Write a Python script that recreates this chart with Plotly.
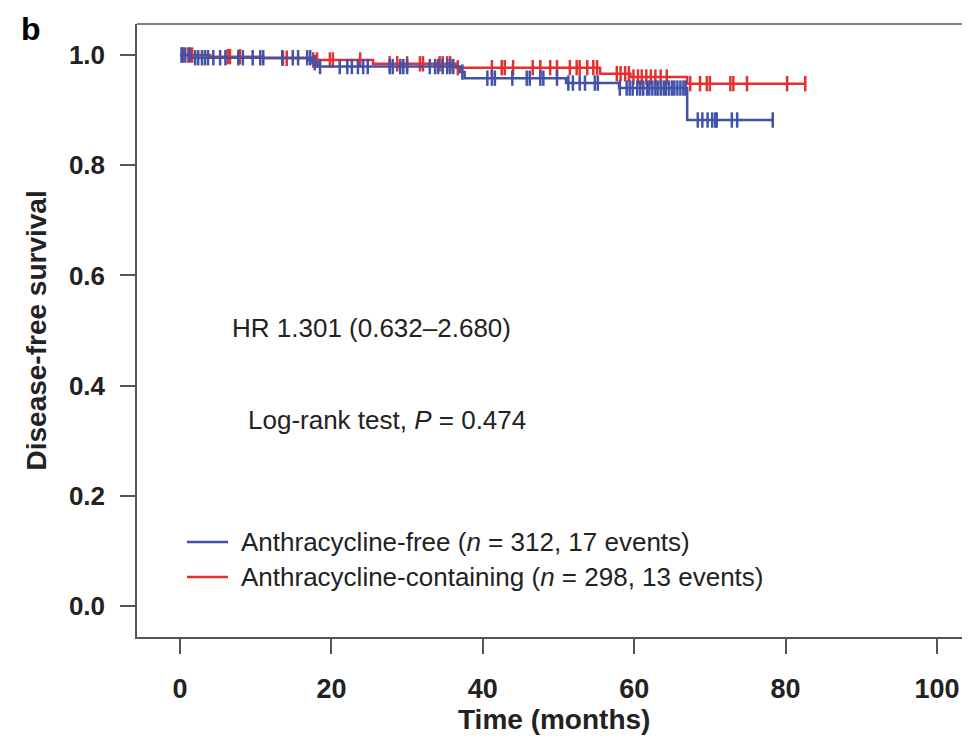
import plotly.graph_objects as go

# ---------------- data ----------------
free_event_t = [1.5, 17.5, 18.2, 37.0, 37.6, 51.0, 58.0, 67.0]
free_event_s = [0.995, 0.986, 0.979, 0.969, 0.958, 0.949, 0.940, 0.882]
free_end = 78.3
free_censor = [0.2, 0.3, 0.7, 1.3, 2.0, 2.4, 2.9, 3.3, 3.7, 4.4, 5.3, 6.0, 7.7, 8.3,
               9.6, 10.6, 11.0, 13.5, 14.9, 15.6, 16.8, 17.2, 17.8, 18.5, 21.1, 22.1,
               22.7, 23.5, 24.2, 24.8, 27.7, 28.1, 29.1, 29.5, 30.0, 33.0, 33.7, 34.1,
               34.7, 35.3, 35.7, 36.1, 37.3, 40.6, 41.2, 41.6, 43.9, 45.8, 46.2, 47.6,
               48.0, 49.8, 51.3, 51.9, 52.8, 53.5, 54.8, 55.2, 58.1, 59.0, 59.4, 59.8,
               60.4, 60.8, 61.2, 61.7, 62.0, 62.4, 62.8, 63.1, 63.5, 63.9, 64.2, 64.6,
               65.0, 65.3, 65.7, 66.1, 66.5, 66.8, 68.4, 69.0, 69.7, 70.3, 70.7, 70.9,
               72.9, 73.6, 78.3]

cont_event_t = [4.0, 11.0, 17.0, 25.5, 36.5, 55.5, 59.5, 67.0]
cont_event_s = [0.997, 0.994, 0.991, 0.984, 0.977, 0.966, 0.960, 0.948]
cont_end = 82.6
cont_censor = [0.4, 1.1, 1.6, 6.3, 6.6, 7.9, 13.6, 14.1, 17.6, 18.1, 19.8, 20.2, 23.8,
               27.7, 28.7, 30.0, 31.7, 32.1, 34.3, 34.7, 35.3, 35.7, 36.7, 41.2, 42.5,
               42.9, 44.0, 46.6, 47.6, 48.9, 49.8, 51.5, 52.4, 52.8, 53.8, 54.6, 55.1,
               57.7, 58.2, 58.8, 59.3, 59.9, 60.5, 61.0, 61.6, 62.2, 62.8, 63.5, 64.3,
               67.4, 68.7, 69.6, 70.0, 72.7, 73.1, 74.9, 80.2, 82.6]

x_ticks = [0, 20, 40, 60, 80, 100]
y_ticks = [0.0, 0.2, 0.4, 0.6, 0.8, 1.0]

label_free = "Anthracycline-free (<i>n</i> = 312, 17 events)"
label_cont = "Anthracycline-containing (<i>n</i> = 298, 13 events)"
hr_text = "HR 1.301 (0.632\u20132.680)"
lr_text = "Log-rank test, <i>P</i> = 0.474"

BLUE = "#4152a8"
RED = "#e3312f"
AX = "#555555"
TXT = "#222222"
FONT = "Liberation Sans, Arial, sans-serif"


def surv_at(t, ev_t, ev_s):
    s = 1.0
    for et, es in zip(ev_t, ev_s):
        if et <= t:
            s = es
    return s


def curve(ev_t, ev_s, end):
    xs = [0.0] + list(ev_t) + [end]
    ys = [1.0] + list(ev_s) + [ev_s[-1]]
    return xs, ys


fig = go.Figure()

for ev_t, ev_s, end, cens, col in [
    (cont_event_t, cont_event_s, cont_end, cont_censor, RED),
    (free_event_t, free_event_s, free_end, free_censor, BLUE),
]:
    xs, ys = curve(ev_t, ev_s, end)
    fig.add_trace(go.Scatter(x=xs, y=ys, mode="lines", line=dict(color=col, width=2.5, shape="hv"),
                             showlegend=False, hoverinfo="skip"))
    fig.add_trace(go.Scatter(x=cens, y=[surv_at(c, ev_t, ev_s) for c in cens], mode="markers",
                             marker=dict(symbol="line-ns-open", size=11, color=col,
                                         line=dict(color=col, width=2.5)),
                             showlegend=False, hoverinfo="skip"))

# layout geometry in window pixels (page body has an 8px margin)
OFF = 8
L, R, T, B = 137, 970, 24, 637
WIN_W, WIN_H = 970, 738


def px(xp):
    return (xp - L) / (R - L)


def py(yp):
    return (B - yp) / (B - T)


annotations = [
    dict(text="b", x=px(19), y=py(9), xref="paper", yref="paper", xanchor="left", yanchor="top",
         showarrow=False, font=dict(size=32, family=FONT, color="black", weight="bold")),
    dict(text="Disease-free survival", x=px(36), y=0.5, xref="paper", yref="paper", textangle=-90,
         xanchor="center", yanchor="middle", showarrow=False,
         font=dict(size=28, family=FONT, color=TXT, weight="bold")),
    dict(text="Time (months)", x=0.5, y=py(719), xref="paper", yref="paper",
         xanchor="center", yanchor="middle", showarrow=False,
         font=dict(size=28, family=FONT, color=TXT, weight="bold")),
    dict(text=hr_text, x=px(230), y=py(328), xref="paper", yref="paper", xanchor="left", yanchor="middle",
         showarrow=False, font=dict(size=26, family=FONT, color=TXT)),
    dict(text=lr_text, x=px(246), y=py(420), xref="paper", yref="paper", xanchor="left", yanchor="middle",
         showarrow=False, font=dict(size=26, family=FONT, color=TXT)),
    dict(text=label_free, x=px(239), y=py(542), xref="paper", yref="paper", xanchor="left", yanchor="middle",
         showarrow=False, font=dict(size=26, family=FONT, color=TXT)),
    dict(text=label_cont, x=px(239), y=py(577), xref="paper", yref="paper", xanchor="left", yanchor="middle",
         showarrow=False, font=dict(size=26, family=FONT, color=TXT)),
]

shapes = [
    dict(type="line", xref="paper", yref="paper", x0=0, x1=1, y0=1, y1=1, line=dict(color=AX, width=1.5)),
    dict(type="line", xref="paper", yref="paper", x0=px(187), x1=px(228), y0=py(542), y1=py(542),
         line=dict(color=BLUE, width=2.5)),
    dict(type="line", xref="paper", yref="paper", x0=px(187), x1=px(228), y0=py(577), y1=py(577),
         line=dict(color=RED, width=2.5)),
]

x_px_per = (937 - 180) / 100.0
x0 = -(180 - L) / x_px_per
x1 = x0 + (R - L) / x_px_per
y_px_per = (606 - 55) / 1.0
y0 = -(B - 606) / y_px_per
y1 = 1.0 + (55 - T) / y_px_per

fig.update_layout(
    width=WIN_W - OFF, height=WIN_H - OFF,
    margin=dict(l=L - OFF, r=0, t=T - OFF, b=WIN_H - B),
    paper_bgcolor="white", plot_bgcolor="white",
    annotations=annotations, shapes=shapes,
    xaxis=dict(range=[x0, x1], tickvals=x_ticks, ticks="outside", ticklen=15, tickwidth=1.5, tickcolor=AX,
               showline=True, linecolor=AX, linewidth=1.5, showgrid=False, zeroline=False,
               ticklabelstandoff=12,
               tickfont=dict(size=27, family=FONT, color=TXT, weight="bold")),
    yaxis=dict(range=[y0, y1], tickvals=y_ticks, tickformat=".1f", ticks="outside", ticklen=15,
               tickwidth=1.5, tickcolor=AX, showline=True, linecolor=AX, linewidth=1.5,
               showgrid=False, zeroline=False, ticklabelstandoff=10,
               tickfont=dict(size=26, family=FONT, color=TXT, weight="bold")),
)

fig.write_html("out.html")
